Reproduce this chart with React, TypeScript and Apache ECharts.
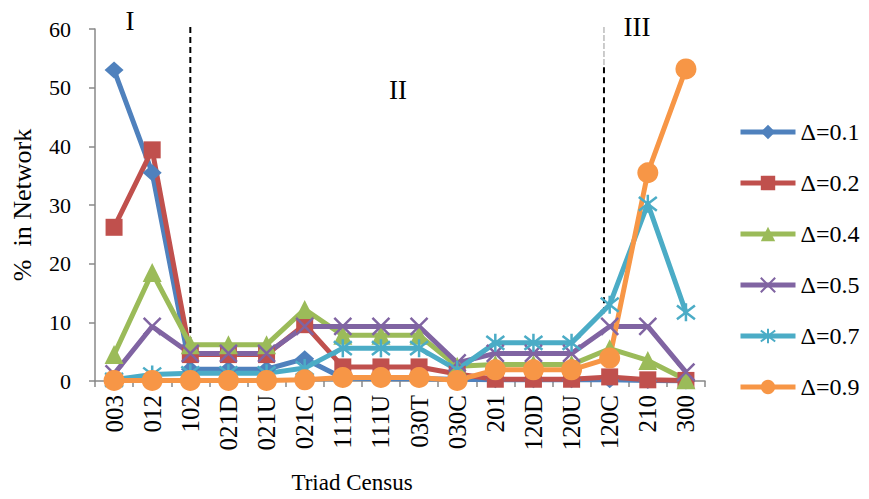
import React, { useEffect, useRef } from 'react';
import * as echarts from 'echarts';

const categories = ['003', '012', '102', '021D', '021U', '021C', '111D', '111U', '030T', '030C', '201', '120D', '120U', '120C', '210', '300'];
const seriesNames = ['Δ=0.1', 'Δ=0.2', 'Δ=0.4', 'Δ=0.5', 'Δ=0.7', 'Δ=0.9'];
const d01 = [53, 35.5, 2.0, 2.0, 2.0, 3.8, 0.5, 0.4, 0.4, 0.3, 0.2, 0.2, 0.2, 0.2, 0.1, 0];
const d02 = [26.2, 39.4, 4.5, 4.5, 4.5, 9.6, 2.4, 2.4, 2.4, 1.2, 0.3, 0.3, 0.3, 0.7, 0.2, 0.1];
const d04 = [4.5, 18.5, 6.2, 6.2, 6.2, 12.2, 7.8, 7.8, 7.8, 2.5, 2.8, 2.8, 2.8, 5.5, 3.5, 0.2];
const d05 = [1.2, 9.3, 4.7, 4.7, 4.7, 9.3, 9.3, 9.3, 9.3, 3.1, 4.7, 4.7, 4.7, 9.3, 9.3, 1.5];
const d07 = [0.2, 1.1, 1.3, 1.3, 1.3, 2.2, 5.6, 5.6, 5.6, 1.9, 6.5, 6.5, 6.5, 13, 30.2, 11.7];
const d09 = [0.1, 0.1, 0.1, 0.1, 0.1, 0.2, 0.6, 0.6, 0.6, 0.1, 1.9, 1.9, 1.9, 3.9, 35.5, 53.2];
const seriesData = [d01, d02, d04, d05, d07, d09];
const yMin = 0;
const yMax = 60;
const yInterval = 10;
const regionLabels = ['I', 'II', 'III'];

const colors = ['#4F81BD', '#C0504D', '#9BBB59', '#8064A2', '#4BACC6', '#F79646'];
const symbols = [
  'diamond',
  'rect',
  'triangle',
  'path://M0,0L10,10M10,0L0,10',
  'path://M0,0L10,10M10,0L0,10M5,-1.5L5,11.5',
  'circle',
];
const symbolSizes: any[] = [[19, 17], 17, 19, 17, 18, 21];

const FONT = '"Liberation Serif", "Times New Roman", serif';

export default function App() {
  const ref = useRef<HTMLDivElement>(null);
  useEffect(() => {
    document.body.style.margin = '0';
    const chart = echarts.init(ref.current!, null, { renderer: 'svg' });
    const series = seriesNames.map((name, i) => {
      const isStroke = i === 3 || i === 4;
      return {
        name,
        type: 'line',
        data: seriesData[i],
        symbol: symbols[i],
        symbolSize: symbolSizes[i],
        showSymbol: true,
        lineStyle: { color: colors[i], width: 5 },
        itemStyle: isStroke
          ? { color: colors[i], borderColor: colors[i], borderWidth: 2.5 }
          : { color: colors[i], borderWidth: 0 },
        emphasis: { disabled: true },
      };
    });
    chart.setOption({
      animation: false,
      grid: { left: 95, top: 29, width: 610, height: 352, containLabel: false },
      legend: {
        orient: 'vertical',
        left: 733,
        top: 115,
        itemWidth: 55,
        itemHeight: 18,
        itemGap: 27,
        data: seriesNames,
        lineStyle: { width: 5 },
        textStyle: { fontFamily: FONT, fontSize: 24, color: '#000' },
      },
      xAxis: {
        type: 'category',
        data: categories,
        boundaryGap: true,
        axisLine: { lineStyle: { color: '#888', width: 1.5 } },
        axisTick: { show: true, length: 6, lineStyle: { color: '#888', width: 1.5 } },
        axisLabel: { rotate: 90, fontFamily: FONT, fontSize: 25, color: '#000', margin: 14 },
        splitLine: { show: false },
      },
      yAxis: {
        type: 'value',
        min: yMin,
        max: yMax,
        interval: yInterval,
        name: '%  in Network',
        nameLocation: 'middle',
        nameGap: 60,
        nameTextStyle: { fontFamily: FONT, fontSize: 26, color: '#000' },
        axisLine: { show: true, lineStyle: { color: '#888', width: 1.5 } },
        axisTick: { show: true, length: 6, lineStyle: { color: '#888', width: 1.5 } },
        axisLabel: { fontFamily: FONT, fontSize: 22, color: '#000', margin: 24 },
        splitLine: { show: false },
      },
      series,
    });

    const px = (i: number, v: number) => chart.convertToPixel({ gridIndex: 0 }, [i, v]) as number[];
    const x1 = px(2, 0)[0];
    const a = px(12, 0)[0];
    const b = px(13, 0)[0];
    const x2 = a + (b - a) * 0.85;
    const yTop = px(0, 60)[1] - 2;
    const y1b = px(0, 7.3)[1];
    const y2a = px(0, 53.5)[1];
    const y2b = px(0, 11.3)[1];
    chart.setOption({
      graphic: [
        { type: 'line', z: 0, shape: { x1, y1: yTop, x2: x1, y2: y1b }, style: { stroke: '#000', lineWidth: 2, lineDash: [6, 4] } },
        { type: 'line', z: 0, shape: { x1: x2, y1: yTop, x2, y2: y2a }, style: { stroke: '#999', lineWidth: 1, lineDash: [6, 2] } },
        { type: 'line', z: 0, shape: { x1: x2, y1: y2a, x2, y2: y2b }, style: { stroke: '#000', lineWidth: 2, lineDash: [6, 4] } },
        { type: 'text', x: 130, y: 21, style: { text: regionLabels[0], font: `27px ${FONT}`, fill: '#000', textAlign: 'center', textVerticalAlign: 'middle' } },
        { type: 'text', x: 398, y: 90, style: { text: regionLabels[1], font: `27px ${FONT}`, fill: '#000', textAlign: 'center', textVerticalAlign: 'middle' } },
        { type: 'text', x: 637, y: 27, style: { text: regionLabels[2], font: `27px ${FONT}`, fill: '#000', textAlign: 'center', textVerticalAlign: 'middle' } },
        { type: 'text', x: 352, y: 482, style: { text: 'Triad Census', font: `23px ${FONT}`, fill: '#000', textAlign: 'center', textVerticalAlign: 'middle' } },
      ],
    });
    return () => chart.dispose();
  }, []);
  return <div ref={ref} style={{ width: 869, height: 499 }} />;
}
